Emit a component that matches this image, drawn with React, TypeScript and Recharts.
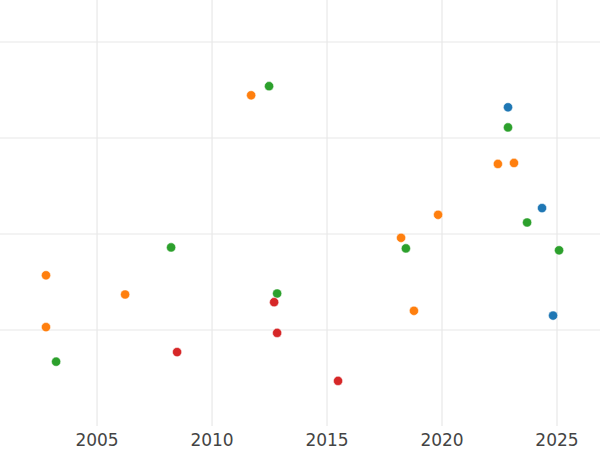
import { ScatterChart, Scatter, XAxis, YAxis, ReferenceLine } from 'recharts';

// x = year, y = value (unitless, axis hidden)
const blueX = [2022.87, 2024.35, 2024.83];
const blueY = [3.32, 2.27, 1.15];

const orangeX = [2011.7, 2022.43, 2023.13, 2019.83, 2018.22, 2018.78, 2002.78, 2006.22, 2002.78];
const orangeY = [3.445, 2.73, 2.74, 2.2, 1.96, 1.2, 1.57, 1.37, 1.03];

const greenX = [2012.48, 2022.87, 2023.7, 2025.09, 2018.43, 2008.22, 2012.83, 2003.22];
const greenY = [3.54, 3.11, 2.12, 1.83, 1.85, 1.86, 1.38, 0.67];

const redX = [2012.7, 2012.83, 2008.48, 2015.48];
const redY = [1.29, 0.97, 0.77, 0.47];

const xTicks = [2005, 2010, 2015, 2020, 2025];
const yTicks = [1, 2, 3, 4];

const zip = (xs: number[], ys: number[]) => xs.map((x, i) => ({ x, y: ys[i] }));

const series = [
  { name: 'a', color: '#1f77b4', data: zip(blueX, blueY) },
  { name: 'b', color: '#ff7f0e', data: zip(orangeX, orangeY) },
  { name: 'c', color: '#2ca02c', data: zip(greenX, greenY) },
  { name: 'd', color: '#d62728', data: zip(redX, redY) },
];

const gridColor = '#e8e8e8';

type DotProps = { cx?: number; cy?: number; fill?: string };
const Dot = ({ cx, cy, fill }: DotProps) => (
  <circle cx={cx} cy={cy} r={4.6} fill={fill} stroke="#fff" strokeWidth={0.5} />
);

export default function App() {
  return (
    <div style={{ position: 'absolute', left: 0, top: 0, width: 600, height: 450 }}>
      <ScatterChart width={600} height={450} margin={{ top: 0, right: 0, bottom: 0, left: 0 }}>
        <XAxis
          type="number"
          dataKey="x"
          domain={[2000.78, 2026.87]}
          ticks={xTicks}
          height={24}
          axisLine={false}
          tickLine={false}
          tick={{ fontSize: 17, fill: '#444', fontFamily: 'DejaVu Sans' }}
          allowDataOverflow
        />
        <YAxis
          type="number"
          dataKey="y"
          domain={[0, 4.4375]}
          ticks={yTicks}
          width={0}
          hide
          allowDataOverflow
        />
        {xTicks.map((t) => (
          <ReferenceLine key={`x${t}`} x={t} stroke={gridColor} strokeWidth={1.2} />
        ))}
        {yTicks.map((t) => (
          <ReferenceLine key={`y${t}`} y={t} stroke={gridColor} strokeWidth={1.2} />
        ))}
        {series.map((s) => (
          <Scatter
            key={s.name}
            name={s.name}
            data={s.data}
            fill={s.color}
            shape={<Dot />}
            isAnimationActive={false}
          />
        ))}
      </ScatterChart>
    </div>
  );
}
